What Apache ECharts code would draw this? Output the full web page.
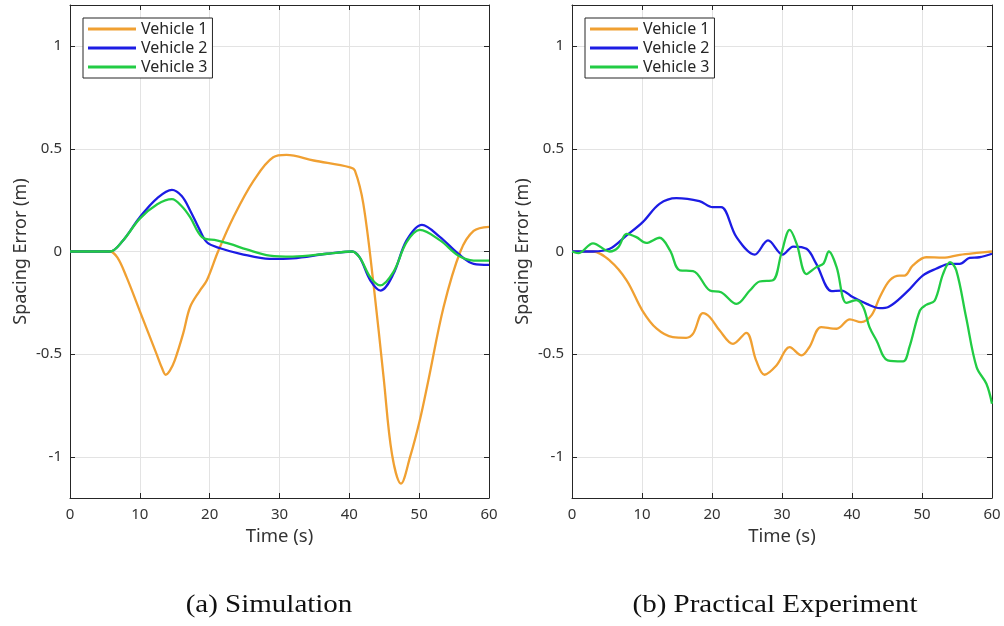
<!DOCTYPE html>
<html>
<head>
<meta charset="utf-8">
<script src="https://cdn.jsdelivr.net/npm/echarts@6/dist/echarts.min.js"></script>
<style>
html,body{margin:0;padding:0;background:#fff;}
#chart{width:1004px;height:626px;}
</style>
</head>
<body>
<div id="chart"></div>
<script>
// ---- data ----
const seriesNames = ['Vehicle 1', 'Vehicle 2', 'Vehicle 3'];
const xTicks = [0, 10, 20, 30, 40, 50, 60];
const yTicks = [-1, -0.5, 0, 0.5, 1];
const panelTitles = ['(a) Simulation', '(b) Practical Experiment'];
const xAxisName = 'Time (s)';
const yAxisName = 'Spacing Error (m)';

// Simulation
const simT1 = [0, 5.7, 6.8, 8.1, 10, 12.4, 13.2, 13.7, 14.3, 15, 16.2, 17.2, 18.6, 19.6, 21.2, 23.4, 26.3, 29.1, 31, 34.9, 40.1, 40.8, 42, 43.5, 44.9, 46.1, 47.4, 48.7, 50.1, 51.3, 53.5, 55.9, 57.8, 60];
const simV1 = [0, 0, -0.03, -0.125, -0.29, -0.5, -0.57, -0.6, -0.58, -0.53, -0.4, -0.27, -0.19, -0.14, 0.0, 0.167, 0.345, 0.459, 0.47, 0.443, 0.41, 0.394, 0.233, -0.17, -0.61, -0.985, -1.13, -1.0, -0.82, -0.63, -0.27, 0, 0.10, 0.12];
const simT2 = [0, 5.7, 7.5, 10, 12.5, 14.6, 16, 17.2, 18.5, 19.6, 21.5, 24.4, 28.6, 31.9, 36.8, 40.4, 41.5, 43, 44.5, 46.3, 48.2, 50.4, 53, 55.6, 57.8, 60];
const simV2 = [0, 0, 0.05, 0.167, 0.26, 0.30, 0.27, 0.2, 0.11, 0.045, 0.016, -0.011, -0.036, -0.033, -0.011, 0.0, -0.03, -0.14, -0.19, -0.11, 0.054, 0.13, 0.07, -0.011, -0.06, -0.065];
const simT3 = [0, 5.7, 7.5, 10, 12.5, 14.6, 16, 17.2, 18.9, 21, 22.9, 25.3, 28.6, 31.9, 36.8, 40.4, 41.5, 43, 44.4, 46.3, 48.2, 50.1, 53, 55.6, 57.8, 60];
const simV3 = [0, 0, 0.05, 0.16, 0.23, 0.255, 0.22, 0.167, 0.07, 0.054, 0.037, 0.01, -0.02, -0.025, -0.011, 0.0, -0.03, -0.125, -0.165, -0.1, 0.045, 0.105, 0.054, -0.02, -0.044, -0.044];

// Practical experiment
const expT1 = [0, 3, 5.4, 7.8, 10.1, 12.1, 14.4, 16.3, 17.3, 18.7, 19.7, 21.1, 23, 24.9, 26.3, 27.5, 29.2, 31.1, 32.8, 33.9, 35.6, 37.8, 39.7, 41.3, 42.8, 44, 45.4, 46.8, 47.5, 48.7, 50.6, 53, 55.4, 57.8, 60];
const expV1 = [0, 0, -0.044, -0.14, -0.29, -0.376, -0.417, -0.42, -0.40, -0.30, -0.32, -0.385, -0.45, -0.396, -0.53, -0.6, -0.555, -0.466, -0.506, -0.466, -0.368, -0.376, -0.33, -0.344, -0.31, -0.22, -0.14, -0.117, -0.117, -0.068, -0.028, -0.03, -0.016, -0.007, 0];
const expT2 = [0, 3, 5.4, 7.8, 10.1, 12.5, 14.9, 18.2, 20.1, 21.3, 23.5, 26.1, 28, 30.1, 31.6, 33.5, 34.9, 37.1, 38.5, 40.1, 42.1, 44, 45.2, 47.8, 50.1, 52, 54, 55.4, 56.8, 58.2, 60];
const expV2 = [0, 0, 0.013, 0.078, 0.143, 0.232, 0.26, 0.245, 0.216, 0.216, 0.07, -0.015, 0.054, -0.015, 0.024, 0.013, -0.06, -0.193, -0.19, -0.222, -0.255, -0.276, -0.27, -0.198, -0.117, -0.084, -0.06, -0.06, -0.031, -0.028, -0.011];
const expT3 = [0, 0.9, 3, 5.4, 6.6, 7.8, 9.2, 10.6, 12.5, 14, 15.4, 17.3, 19.7, 21.3, 23.5, 25.4, 26.8, 28.7, 29.9, 31.1, 32.1, 33.5, 34.9, 35.9, 36.7, 37.8, 39.2, 40.6, 41.6, 42.5, 43.5, 45.1, 47.3, 48.2, 49.7, 50.6, 51.8, 53, 54, 54.9, 56.3, 57.8, 59.2, 60];
const expV3 = [0, -0.008, 0.04, 0.0, 0.02, 0.086, 0.07, 0.042, 0.067, 0.005, -0.092, -0.095, -0.19, -0.198, -0.255, -0.19, -0.146, -0.14, -0.011, 0.105, 0.037, -0.11, -0.076, -0.06, 0.0, -0.076, -0.25, -0.237, -0.27, -0.368, -0.433, -0.53, -0.535, -0.466, -0.287, -0.26, -0.24, -0.11, -0.052, -0.092, -0.32, -0.563, -0.644, -0.741];

// ---- build ----
const colors = ['#F0A032', '#1C1CE4', '#22CC44'];
const AX = '#262626';
const FONT = 'Noto Sans';
const zip = (t, v) => t.map((x, i) => [x, v[i]]);

const grids = [
  { left: 70, top: 5, width: 419, height: 493 },
  { left: 572, top: 5, width: 420, height: 493 }
];

const xAxes = [], yAxes = [];
grids.forEach((g, gi) => {
  xAxes.push({
    type: 'value', gridIndex: gi, min: 0, max: 60, position: 'bottom',
    name: xAxisName, nameLocation: 'middle', nameGap: 27,
    nameTextStyle: { fontFamily: FONT, fontSize: 18.5, color: '#333' },
    axisLine: { onZero: false, lineStyle: { color: AX, width: 1 } },
    axisTick: { inside: true, length: 5, customValues: xTicks, lineStyle: { color: AX } },
    axisLabel: { customValues: xTicks, margin: 9, fontFamily: FONT, fontSize: 15, color: '#333' },
    splitLine: { show: true, lineStyle: { color: '#e3e3e3', width: 1 } }
  });
  xAxes.push({
    type: 'value', gridIndex: gi, min: 0, max: 60, position: 'top',
    axisLine: { onZero: false, lineStyle: { color: AX, width: 1 } },
    axisTick: { inside: true, length: 5, customValues: xTicks, lineStyle: { color: AX } },
    axisLabel: { show: false }, splitLine: { show: false }
  });
  yAxes.push({
    type: 'value', gridIndex: gi, min: -1.2, max: 1.2, position: 'left',
    name: yAxisName, nameLocation: 'middle', nameGap: 40, nameRotate: 90,
    nameTextStyle: { fontFamily: FONT, fontSize: 18, color: '#333' },
    axisLine: { onZero: false, lineStyle: { color: AX, width: 1 } },
    axisTick: { inside: true, length: 5, customValues: yTicks, lineStyle: { color: AX } },
    axisLabel: { customValues: yTicks, margin: 8, fontFamily: FONT, fontSize: 15, color: '#333' },
    splitLine: { show: true, lineStyle: { color: '#e3e3e3', width: 1 } }
  });
  yAxes.push({
    type: 'value', gridIndex: gi, min: -1.2, max: 1.2, position: 'right',
    axisLine: { onZero: false, lineStyle: { color: AX, width: 1 } },
    axisTick: { inside: true, length: 5, customValues: yTicks, lineStyle: { color: AX } },
    axisLabel: { show: false }, splitLine: { show: false }
  });
});

const panels = [
  [zip(simT1, simV1), zip(simT2, simV2), zip(simT3, simV3)],
  [zip(expT1, expV1), zip(expT2, expV2), zip(expT3, expV3)]
];
const series = [];
panels.forEach((p, gi) => {
  p.forEach((d, si) => {
    series.push({
      type: 'line', name: seriesNames[si], data: d,
      xAxisIndex: gi * 2, yAxisIndex: gi * 2,
      smooth: 0.35, showSymbol: false, symbol: 'none',
      lineStyle: { color: colors[si], width: 2.3 },
      itemStyle: { color: colors[si] },
      z: 3 + si, silent: true, animation: false
    });
  });
});

const legendBase = {
  orient: 'vertical', top: 18, data: seriesNames,
  icon: 'rect', itemWidth: 48, itemHeight: 3, itemGap: 3,
  padding: [3, 5, 3, 5],
  borderColor: AX, borderWidth: 1, backgroundColor: '#fff',
  textStyle: { fontFamily: FONT, fontSize: 16, color: '#262626', lineHeight: 16 },
  selectedMode: false
};

const option = {
  animation: false,
  backgroundColor: '#fff',
  grid: grids,
  xAxis: xAxes,
  yAxis: yAxes,
  legend: [
    Object.assign({}, legendBase, { left: 83 }),
    Object.assign({}, legendBase, { left: 585 })
  ],
  graphic: [
    { type: 'text', x: 269, y: 605, scaleX: 1.16, style: { text: panelTitles[0], fontFamily: 'Liberation Serif', fontSize: 25, fill: '#111', align: 'center', verticalAlign: 'middle' } },
    { type: 'text', x: 775, y: 605, scaleX: 1.16, style: { text: panelTitles[1], fontFamily: 'Liberation Serif', fontSize: 25, fill: '#111', align: 'center', verticalAlign: 'middle' } }
  ],
  series: series
};

const chart = echarts.init(document.getElementById('chart'), null, { renderer: 'canvas' });
chart.setOption(option);
</script>
</body>
</html>
